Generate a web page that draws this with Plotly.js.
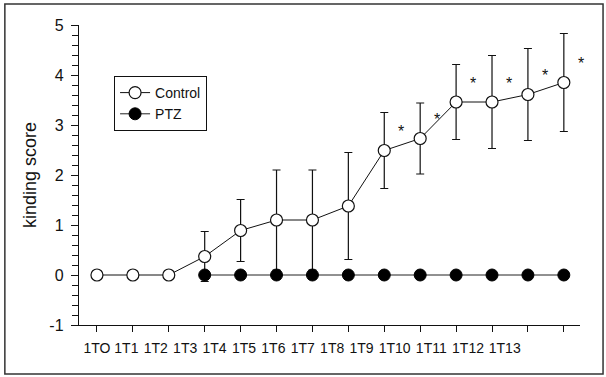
<!DOCTYPE html>
<html>
<head>
<meta charset="utf-8">
<script src="https://cdn.plot.ly/plotly-3.0.1.min.js"></script>
<style>html,body{margin:0;padding:0;background:#fff;}#chart{width:606px;height:377px;}</style>
</head>
<body>
<div id="chart"></div>
<script>
// ---- data ----
var categories = ['1TO','1T1','1T2','1T3','1T4','1T5','1T6','1T7','1T8','1T9','1T10','1T11','1T12','1T13'];
var controlScore = [0, 0, 0, 0.37, 0.89, 1.1, 1.1, 1.38, 2.49, 2.73, 3.46, 3.46, 3.61, 3.85];
var controlErr   = [0, 0, 0, 0.50, 0.62, 1.0, 1.0, 1.07, 0.76, 0.71, 0.75, 0.93, 0.92, 0.98];
var ptzScore     = [null, null, null, 0, 0, 0, 0, 0, 0, 0, 0, 0, 0, 0];
var significant  = [false, false, false, false, false, false, false, false, true, true, true, true, true, true];
var yTickVals    = [-1, 0, 1, 2, 3, 4, 5];
var yTickText    = ['-1', '0', '1', '2', '3', '4', '5'];

var FONT = 'Liberation Sans, Arial, sans-serif';
var idx = categories.map(function(_, i){ return i; });
var xRange = [-0.5, 13.45];
var plotW = 606 - 79 - 26;
var pxPerUnit = plotW / (xRange[1] - xRange[0]);

// The original prints the labels as one spaced line of text, so they drift
// away from the ticks: place them by their text length.
var charW = 7.3, gapW = 7.5;
var labelPos = [0];
for (var k = 1; k < categories.length; k++) {
  var step = charW * (categories[k-1].length + categories[k].length) / 2 + gapW;
  labelPos.push(labelPos[k-1] + step / pxPerUnit);
}

var traces = [
  {
    x: idx, y: controlScore, name: 'Control', type: 'scatter', mode: 'lines+markers',
    line: {color: '#111', width: 1},
    marker: {symbol: 'circle', size: 12, color: '#fff', line: {color: '#111', width: 1.2}},
    error_y: {type: 'data', array: controlErr, visible: true, color: '#111', thickness: 1.2, width: 4},
    cliponaxis: false
  },
  {
    x: idx, y: ptzScore, name: 'PTZ', type: 'scatter', mode: 'lines+markers',
    connectgaps: false,
    line: {color: '#222', width: 1},
    marker: {symbol: 'circle', size: 12, color: '#000', line: {color: '#000', width: 1}},
    cliponaxis: false
  },
  {
    x: [0], y: [0], xaxis: 'x2', type: 'scatter', mode: 'markers',
    marker: {opacity: 0}, showlegend: false, hoverinfo: 'skip'
  }
];

var annotations = [];
idx.forEach(function(i){
  if (significant[i]) {
    annotations.push({
      x: i, y: controlScore[i], xref: 'x', yref: 'y', text: '*', showarrow: false,
      xshift: 17, yshift: 19, font: {family: FONT, size: 16, color: '#111'}
    });
  }
});

var layout = {
  width: 606, height: 377,
  margin: {l: 79, r: 26, t: 25, b: 52},
  paper_bgcolor: '#fff', plot_bgcolor: '#fff',
  font: {family: FONT, color: '#111'},
  showlegend: true,
  legend: {
    x: 0.07, y: 0.83, xanchor: 'left', yanchor: 'top',
    bgcolor: '#fff', bordercolor: '#111', borderwidth: 1,
    font: {family: FONT, size: 14, color: '#111'},
    itemwidth: 30, tracegroupgap: 0
  },
  xaxis: {
    range: xRange, tickvals: idx, showticklabels: false,
    ticks: 'outside', ticklen: 6, tickwidth: 1, tickcolor: '#111',
    showline: true, linecolor: '#111', linewidth: 1.2,
    showgrid: false, zeroline: false, fixedrange: true
  },
  xaxis2: {
    overlaying: 'x', anchor: 'y', side: 'bottom', range: xRange,
    tickvals: labelPos, ticktext: categories, tickangle: 0,
    ticks: 'outside', ticklen: 10, tickcolor: 'rgba(0,0,0,0)',
    tickfont: {family: FONT, size: 14, color: '#111'},
    showline: false, showgrid: false, zeroline: false
  },
  yaxis: {
    range: [-1, 5], tickvals: yTickVals, ticktext: yTickText,
    ticks: 'outside', ticklen: 7, tickwidth: 1, tickcolor: '#111',
    ticklabelstandoff: 4,
    minor: {dtick: 0.2, ticks: 'outside', ticklen: 6, tickcolor: '#111', tickwidth: 1, showgrid: false},
    tickfont: {family: FONT, size: 16, color: '#111'},
    showline: true, linecolor: '#111', linewidth: 1.2,
    showgrid: false, zeroline: false,
    title: {text: 'kinding score', font: {family: FONT, size: 18, color: '#111'}, standoff: 8}
  },
  annotations: annotations,
  shapes: [{
    type: 'rect', xref: 'paper', yref: 'paper',
    x0: -0.148, x1: 1.046, y0: -0.163, y1: 1.07,
    line: {color: '#333', width: 1.5}
  }]
};

Plotly.newPlot('chart', traces, layout, {displayModeBar: false, staticPlot: true});
</script>
</body>
</html>
